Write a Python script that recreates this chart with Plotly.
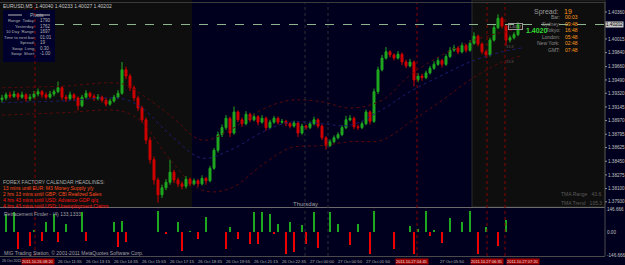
import plotly.graph_objects as go

# ---------------- data ----------------
opens = [1.3924, 1.3926, 1.3930, 1.3928, 1.3931, 1.3927, 1.3930, 1.3925, 1.3927, 1.3931,
         1.3934, 1.3930, 1.3927, 1.3931, 1.3934, 1.3939, 1.3927, 1.3925, 1.3930, 1.3926,
         1.3916, 1.3927, 1.3932, 1.3928, 1.3925, 1.3927, 1.3923, 1.3918, 1.3922, 1.3927,
         1.3932, 1.3962, 1.3954, 1.3939, 1.3926, 1.3913, 1.3898, 1.3872, 1.3847, 1.3821,
         1.3802, 1.3811, 1.3818, 1.3831, 1.3821, 1.3816, 1.3813, 1.3822, 1.3816, 1.3820,
         1.3816, 1.3823, 1.3820, 1.3836, 1.3859, 1.3879, 1.3888, 1.3900, 1.3881, 1.3908,
         1.3898, 1.3893, 1.3905, 1.3898, 1.3902, 1.3895, 1.3900, 1.3888, 1.3895, 1.3900,
         1.3895, 1.3896, 1.3893, 1.3890, 1.3894, 1.3881, 1.3890, 1.3888, 1.3893, 1.3898,
         1.3890, 1.3875, 1.3865, 1.3870, 1.3875, 1.3879, 1.3888, 1.3898, 1.3900, 1.3889,
         1.3888, 1.3893, 1.3908, 1.3896, 1.3934, 1.3962, 1.3977, 1.3985, 1.3981, 1.3977,
         1.3982, 1.3972, 1.3967, 1.3972, 1.3949, 1.3954, 1.3952, 1.3958, 1.3964, 1.3969,
         1.3974, 1.3969, 1.3979, 1.3987, 1.3990, 1.3985, 1.3993, 1.3987, 1.3996, 1.4005,
         1.3995, 1.3985, 1.3981, 1.4000, 1.4016, 1.4028, 1.4018, 1.4000, 1.4003, 1.4007]

closes = [1.3926, 1.3930, 1.3928, 1.3931, 1.3927, 1.3930, 1.3925, 1.3927, 1.3931, 1.3934,
          1.3930, 1.3927, 1.3931, 1.3934, 1.3939, 1.3927, 1.3925, 1.3930, 1.3926, 1.3916,
          1.3927, 1.3932, 1.3928, 1.3925, 1.3927, 1.3923, 1.3918, 1.3922, 1.3927, 1.3932,
          1.3962, 1.3954, 1.3939, 1.3926, 1.3913, 1.3898, 1.3872, 1.3847, 1.3821, 1.3802,
          1.3811, 1.3818, 1.3831, 1.3821, 1.3816, 1.3813, 1.3822, 1.3816, 1.3820, 1.3816,
          1.3823, 1.3820, 1.3836, 1.3859, 1.3879, 1.3888, 1.3900, 1.3881, 1.3908, 1.3898,
          1.3893, 1.3905, 1.3898, 1.3902, 1.3895, 1.3900, 1.3888, 1.3895, 1.3900, 1.3895,
          1.3896, 1.3893, 1.3890, 1.3894, 1.3881, 1.3890, 1.3888, 1.3893, 1.3898, 1.3890,
          1.3875, 1.3865, 1.3870, 1.3875, 1.3879, 1.3888, 1.3898, 1.3900, 1.3889, 1.3888,
          1.3893, 1.3908, 1.3896, 1.3934, 1.3962, 1.3977, 1.3985, 1.3981, 1.3977, 1.3982,
          1.3972, 1.3967, 1.3972, 1.3949, 1.3954, 1.3952, 1.3958, 1.3964, 1.3969, 1.3974,
          1.3969, 1.3979, 1.3987, 1.3990, 1.3985, 1.3993, 1.3987, 1.3996, 1.4005, 1.3995,
          1.3985, 1.3981, 1.4000, 1.4016, 1.4028, 1.4018, 1.4000, 1.4003, 1.4007, 1.4020]

highs = [1.3930, 1.3933, 1.3934, 1.3935, 1.3933, 1.3934, 1.3932, 1.3931, 1.3935, 1.3938,
         1.3936, 1.3933, 1.3935, 1.3937, 1.3947, 1.3941, 1.3930, 1.3934, 1.3932, 1.3928,
         1.3930, 1.3936, 1.3934, 1.3931, 1.3931, 1.3929, 1.3926, 1.3925, 1.3930, 1.3936,
         1.3972, 1.3966, 1.3957, 1.3942, 1.3929, 1.3916, 1.3901, 1.3876, 1.3851, 1.3824,
         1.3815, 1.3822, 1.3847, 1.3834, 1.3824, 1.3819, 1.3826, 1.3824, 1.3823, 1.3822,
         1.3827, 1.3825, 1.3839, 1.3862, 1.3883, 1.3892, 1.3904, 1.3902, 1.3915, 1.3910,
         1.3901, 1.3909, 1.3907, 1.3906, 1.3904, 1.3904, 1.3902, 1.3898, 1.3903, 1.3902,
         1.3899, 1.3898, 1.3895, 1.3897, 1.3896, 1.3893, 1.3892, 1.3896, 1.3902, 1.3900,
         1.3892, 1.3877, 1.3873, 1.3878, 1.3882, 1.3891, 1.3903, 1.3904, 1.3902, 1.3892,
         1.3896, 1.3911, 1.3910, 1.3938, 1.3966, 1.3981, 1.3991, 1.3987, 1.3983, 1.3986,
         1.3984, 1.3975, 1.3976, 1.3974, 1.3958, 1.3957, 1.3961, 1.3967, 1.3973, 1.3978,
         1.3976, 1.3982, 1.3991, 1.3994, 1.3992, 1.3997, 1.3995, 1.4000, 1.4010, 1.4007,
         1.3997, 1.3987, 1.4003, 1.4020, 1.4033, 1.4030, 1.4020, 1.4006, 1.4010, 1.4023]

lows = [1.3920, 1.3923, 1.3925, 1.3926, 1.3923, 1.3925, 1.3921, 1.3922, 1.3925, 1.3928,
        1.3926, 1.3924, 1.3925, 1.3928, 1.3932, 1.3923, 1.3921, 1.3923, 1.3922, 1.3910,
        1.3914, 1.3925, 1.3925, 1.3922, 1.3923, 1.3920, 1.3915, 1.3916, 1.3920, 1.3925,
        1.3930, 1.3950, 1.3935, 1.3922, 1.3909, 1.3894, 1.3867, 1.3842, 1.3815, 1.3792,
        1.3798, 1.3808, 1.3815, 1.3817, 1.3812, 1.3809, 1.3810, 1.3813, 1.3814, 1.3812,
        1.3814, 1.3815, 1.3818, 1.3834, 1.3856, 1.3876, 1.3885, 1.3876, 1.3879, 1.3895,
        1.3889, 1.3891, 1.3895, 1.3896, 1.3891, 1.3893, 1.3884, 1.3886, 1.3893, 1.3892,
        1.3893, 1.3890, 1.3887, 1.3888, 1.3876, 1.3879, 1.3885, 1.3886, 1.3891, 1.3887,
        1.3872, 1.3860, 1.3863, 1.3868, 1.3873, 1.3877, 1.3886, 1.3896, 1.3886, 1.3885,
        1.3886, 1.3891, 1.3892, 1.3894, 1.3931, 1.3960, 1.3975, 1.3978, 1.3974, 1.3975,
        1.3968, 1.3964, 1.3965, 1.3941, 1.3946, 1.3948, 1.3950, 1.3956, 1.3962, 1.3967,
        1.3965, 1.3967, 1.3977, 1.3985, 1.3982, 1.3983, 1.3984, 1.3985, 1.3994, 1.3992,
        1.3982, 1.3977, 1.3979, 1.3998, 1.4014, 1.4015, 1.3993, 1.3997, 1.4001, 1.4005]

bar_index = list(range(len(closes)))

# TMA bands (sampled points)
tma_idx = [0, 15, 30, 35, 42, 50, 57, 65, 72, 80, 87, 95, 102, 110, 117, 125, 130]
tma_mid = [1.3920, 1.3922, 1.3925, 1.3913, 1.3879, 1.3849, 1.3859, 1.3882, 1.3895,
           1.3893, 1.3891, 1.3911, 1.3934, 1.3955, 1.3972, 1.3985, 1.3990]
tma_upper = [1.3939, 1.3941, 1.3944, 1.3930, 1.3904, 1.3872, 1.3885, 1.3911, 1.3923,
             1.3921, 1.3913, 1.3923, 1.3955, 1.3981, 1.3998, 1.4010, 1.4015]
tma_lower = [1.3904, 1.3907, 1.3909, 1.3895, 1.3847, 1.3808, 1.3810, 1.3840, 1.3862,
             1.3865, 1.3870, 1.3872, 1.3895, 1.3923, 1.3949, 1.3972, 1.3980]

# Retracement Finder histogram
ind_up_x = [1, 3, 8, 11, 13, 16, 20, 28, 30, 39, 44, 47, 51, 57, 63, 65, 67, 69, 72, 75,
            78, 82, 84, 89, 93, 102, 104, 106, 108, 112, 115, 117, 121, 126]
ind_up_y = [115, 126, 8, 62, 115, 51, 126, 62, 72, 132, 62, 4, 94, 30, 126, 130, 115, 51, 62, 45,
            130, 130, 51, 51, 132, 36, 19, 132, 8, 87, 66, 132, 30, 79]
ind_dn_x = [4, 7, 10, 14, 21, 29, 31, 41, 45, 49, 56, 59, 62, 64, 68, 71, 73, 76, 79, 87,
            92, 98, 103, 107, 110, 119, 124]
ind_dn_y = [-108, -87, -55, -66, -55, -98, -66, -13, -119, -45, -108, -45, -77, -77, -13, -140, -130, -77,
            -104, -83, -140, -108, -140, -23, -72, -140, -87]

price_ticks = [1.40360, 1.40015, 1.39840, 1.39660, 1.39490, 1.39320, 1.39145,
               1.38970, 1.38795, 1.38625, 1.38450, 1.38275, 1.38100, 1.37930]

time_labels = [(1, "26 Oct 2011"), (57, "26 Oct 11:55"), (85, "26 Oct 13:15"), (113, "26 Oct 14:35"),
               (141, "26 Oct 15:55"), (169, "26 Oct 17:15"), (197, "26 Oct 18:35"), (225, "26 Oct 19:55"),
               (253, "26 Oct 21:15"), (281, "26 Oct 22:35"), (309, "27 Oct 00:00"), (337, "27 Oct 00:50"),
               (365, "27 Oct 01:50"), (439, "27 Oct 05:50")]
red_time_boxes = [(21, "2011.10.26 08:20"), (395, "2011.10.27 04:45"), (470, "2011.10.27 06:35"),
                  (506, "2011.10.27 07:20")]

# ---------------- geometry helpers (layout only) ----------------
W, H, PW = 625, 265, 605


def pxx(x):
    return x / PW


def pxy(y):
    return 1 - y / H


NAVY = "#00001e"
BLACK = "#0e0e0e"
GREY = "#b4b4b4"
FONT = "Liberation Sans"

fig = go.Figure()

for band, col in [(tma_upper, "#5a0a0a"), (tma_lower, "#5a0a0a"), (tma_mid, "#1c1c70")]:
    fig.add_trace(go.Scatter(x=tma_idx, y=band, mode="lines", xaxis="x", yaxis="y",
                             line=dict(color=col, width=1, dash="dot", shape="spline"),
                             hoverinfo="skip", showlegend=False))

fig.add_trace(go.Candlestick(
    x=bar_index, open=opens, high=highs, low=lows, close=closes,
    xaxis="x", yaxis="y", whiskerwidth=0,
    increasing=dict(line=dict(color="#1fa81f", width=1), fillcolor="#1fa81f"),
    decreasing=dict(line=dict(color="#d00000", width=1), fillcolor="#d00000"),
    showlegend=False, hoverinfo="skip"))

fig.add_trace(go.Bar(x=ind_up_x, y=ind_up_y, xaxis="x2", yaxis="y2", width=0.5,
                     marker=dict(color="#1fa81f", line=dict(width=0)), showlegend=False))
fig.add_trace(go.Bar(x=ind_dn_x, y=ind_dn_y, xaxis="x2", yaxis="y2", width=0.5,
                     marker=dict(color="#ee0000", line=dict(width=0)), showlegend=False))

shapes = []
# session backgrounds of main panel
shapes.append(dict(type="rect", xref="paper", yref="paper", x0=pxx(0), x1=pxx(192), y0=pxy(207), y1=pxy(0),
                   fillcolor=BLACK, line=dict(width=0), layer="below"))
shapes.append(dict(type="rect", xref="paper", yref="paper", x0=pxx(472), x1=pxx(605), y0=pxy(207), y1=pxy(0),
                   fillcolor=BLACK, line=dict(color="#2a2a2a", width=1), layer="below"))
# info box
shapes.append(dict(type="rect", xref="paper", yref="paper", x0=pxx(3), x1=pxx(55), y0=pxy(62), y1=pxy(10),
                   fillcolor="#00002c", line=dict(width=0), layer="below"))
shapes.append(dict(type="line", xref="paper", yref="paper", x0=pxx(8), x1=pxx(22), y0=pxy(15), y1=pxy(15),
                   line=dict(color=GREY, width=1)))
shapes.append(dict(type="line", xref="paper", yref="paper", x0=pxx(36), x1=pxx(50), y0=pxy(15), y1=pxy(15),
                   line=dict(color=GREY, width=1)))
# panel borders
shapes.append(dict(type="line", xref="paper", yref="paper", x0=0, x1=1, y0=pxy(207.5), y1=pxy(207.5),
                   line=dict(color="#6a6a6a", width=1)))
shapes.append(dict(type="line", xref="paper", yref="paper", x0=0, x1=1, y0=pxy(2.5), y1=pxy(2.5),
                   line=dict(color="#3a3a3a", width=1)))
shapes.append(dict(type="line", xref="paper", yref="paper", x0=1, x1=1, y0=pxy(256), y1=pxy(2),
                   line=dict(color="#4a4a4a", width=1)))
shapes.append(dict(type="line", xref="paper", yref="paper", x0=0, x1=1, y0=pxy(256.5), y1=pxy(256.5),
                   line=dict(color="#4a4a4a", width=1)))
# vertical separators
for vx in [35, 417, 487, 505]:
    shapes.append(dict(type="line", xref="paper", yref="paper", x0=pxx(vx), x1=pxx(vx), y0=pxy(256), y1=pxy(3),
                       line=dict(color="#8a0000", width=1, dash="dot")))
for vx in [305, 328]:
    shapes.append(dict(type="line", xref="paper", yref="paper", x0=pxx(vx), x1=pxx(vx), y0=pxy(256), y1=pxy(3),
                       line=dict(color="#2e2e3a", width=1, dash="dot")))
# current price line
shapes.append(dict(type="line", xref="paper", yref="y", x0=pxx(55), x1=1, y0=closes[-1], y1=closes[-1],
                   line=dict(color="#8fb88f", width=1, dash="dash")))
# small price-axis tick marks
for v in price_ticks:
    shapes.append(dict(type="line", xref="paper", yref="y", x0=1, x1=pxx(607), y0=v, y1=v,
                       line=dict(color="#909090", width=1)))

ann = []


def text(x, y, s, color=GREY, size=5, anchor="left", bold=False, bg=None, border=None):
    if bold:
        s = "<b>" + s + "</b>"
    d = dict(xref="paper", yref="paper", x=pxx(x), y=pxy(y), text=s, showarrow=False,
             xanchor=anchor, yanchor="middle", font=dict(family=FONT, size=size, color=color),
             borderpad=0)
    if bg:
        d["bgcolor"] = bg
    if border:
        d["bordercolor"] = border
        d["borderwidth"] = 1
    ann.append(d)


text(2, 6, "EURUSD,M5  1.40040 1.40233 1.40027 1.40202", color="#c8c8c8")
text(29, 15, "Pivots")
info = [("Range  Today:", "1790"), ("Yesterday:", "1762"), ("10 Day  Range:", "1697"),
        ("Time to next bar:", "01:01"), ("Spread:", "19"), ("Swap  Long:", "0.30"),
        ("Swap  Short:", "-1.00")]
for k, (lab, val) in enumerate(info):
    yy = 21 + k * 5.5
    text(36, yy, lab, anchor="right", size=4.2)
    text(39, yy, val, size=4.5)

text(2, 182, "FOREX FACTORY CALENDAR HEADLINES:", color="#a8a8a8")
text(2, 188, "13 mins until EUR: M3 Money Supply y/y", color="#ff4a1a")
text(2, 194, "2 hrs 13 mins until GBP: CBI Realized Sales", color="#ff4a1a")
text(2, 200, "4 hrs 43 mins until USD: Advance GDP q/q", color="#ff1010")
text(2, 206, "4 hrs 43 mins until USD: Unemployment Claims", color="#ff1010")

text(560, 12, "Spread:", color="#9a9a9a", size=7, anchor="right")
text(563, 12, "19", color="#ff9a1a", size=7)
clock = [("Bar:", "00:03"), ("Sydney:", "09:48"), ("Tokyo:", "16:48"), ("London:", "05:48"),
         ("New York:", "02:48"), ("GMT:", "07:48")]
for k, (lab, val) in enumerate(clock):
    yy = 17 + k * 6.6
    text(561, yy, lab, color="#8a8a8a", anchor="right")
    text(564, yy, val, color="#ff9a1a")

text(525, 31, "1.4020", color="#33dd33", size=7, bold=True)
text(508, 27, "1.4017", color="#9a9a9a", size=4, border="#9a9a9a")
text(505, 47, "33.8", color="#555555", size=4)
text(505, 62, "43.8", color="#555555", size=4)

text(603, 194, "TMA Range   43.6", color="#5a5a5a", size=5, anchor="right")
text(603, 203, "TMA Trend   105.3", color="#5a5a5a", size=5, anchor="right")
text(305, 204, "Thursday", color="#a0a0a0", size=6, anchor="center")

text(3, 214, "Retracement Finder - (4) 133,1333", color="#a0a0a0")
text(3, 253, "MIG Trading Station, \u00a9 2001-2011 MetaQuotes Software Corp.", color="#a0a0a0")

for x, s in time_labels:
    text(x, 261, s, color="#b0b0b0", size=3.6 if x < 10 else 4.2)
for x, s in red_time_boxes:
    text(x, 261, s, color="#e0e0e0", size=4, bg="#a00000")

text(624, 25, "1.40202", color="#000000", size=4.6, bg="#c8c8c8", anchor="right")

fig.update_layout(
    width=W, height=H, template="none",
    margin=dict(l=0, r=W - PW, t=0, b=0),
    paper_bgcolor=NAVY, plot_bgcolor=NAVY,
    showlegend=False, bargap=0, barmode="overlay",
    font=dict(family=FONT, size=5, color=GREY),
    xaxis=dict(domain=[0, 1], range=[-0.5, 150.75], anchor="y", showgrid=False, zeroline=False,
               showticklabels=False, ticks="", rangeslider=dict(visible=False), fixedrange=True),
    xaxis2=dict(domain=[0, 1], range=[-0.5, 150.75], anchor="y2", showgrid=False, zeroline=False,
                showticklabels=False, ticks=""),
    yaxis=dict(domain=[pxy(207), pxy(3)], range=[1.37864, 1.40475], side="right", anchor="x",
               showgrid=False, zeroline=False, automargin=False,
               tickvals=price_ticks, ticktext=["%.5f" % v for v in price_ticks],
               ticks="", ticklen=0, ticklabelstandoff=2,
               tickfont=dict(family=FONT, size=4.6, color="#c0c0c0")),
    yaxis2=dict(domain=[pxy(256), pxy(208)], range=[-153, 153], side="right", anchor="x2",
                showgrid=False, zeroline=False, automargin=False,
                tickvals=[146.666, 0, -146.666], ticktext=["146.666", "0.00", "-146.666"],
                ticks="", ticklen=0, ticklabelstandoff=1,
                tickfont=dict(family=FONT, size=4.6, color="#c0c0c0")),
    shapes=shapes, annotations=ann,
)

fig.write_html("out.html")
